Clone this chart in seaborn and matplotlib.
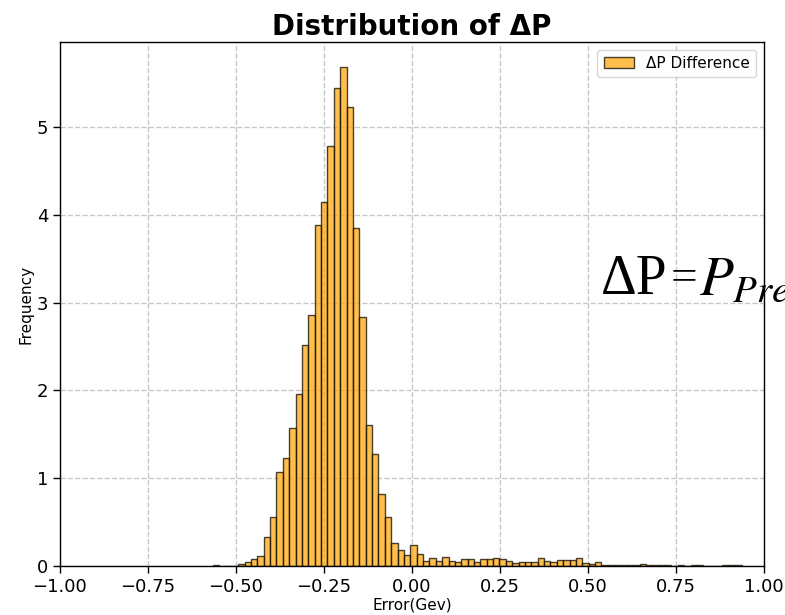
import numpy as np
import pandas as pd
import matplotlib
matplotlib.use("Agg")
import matplotlib.pyplot as plt
import seaborn as sns

# Histogram of ΔP (density per bin), bins start at -0.566 with width 0.0181
bin_start = -0.566
bin_width = 0.0181
density = [
    0.01, 0.00, 0.00, 0.00,
    0.02, 0.05, 0.08, 0.11, 0.33, 0.56, 1.07, 1.23, 1.57, 1.96,
    2.52, 2.86, 3.89, 4.15, 4.78, 5.45, 5.69, 5.23, 3.85, 2.84,
    1.61, 1.28, 0.82, 0.56, 0.26, 0.18, 0.13, 0.24, 0.14, 0.06,
    0.09, 0.06, 0.10, 0.06, 0.05, 0.08, 0.08, 0.05, 0.08, 0.08,
    0.09, 0.08, 0.06, 0.03, 0.05, 0.04, 0.04, 0.09, 0.06, 0.05,
    0.07, 0.07, 0.07, 0.09, 0.03, 0.02, 0.04,
    0.01, 0.01, 0.01, 0.01, 0.01, 0.01, 0.02, 0.01, 0.01, 0.01,
    0.01, 0.00, 0.01, 0.00, 0.01, 0.01, 0.00, 0.00, 0.00, 0.01,
    0.01, 0.01,
]
x_ticks = [-1.00, -0.75, -0.50, -0.25, 0.00, 0.25, 0.50, 0.75, 1.00]
y_ticks = [0, 1, 2, 3, 4, 5]

n_bins = len(density)
edges = bin_start + bin_width * np.arange(n_bins + 1)
centers = (edges[:-1] + edges[1:]) / 2
df = pd.DataFrame({"error": centers, "density": density})

plt.rcParams["mathtext.fontset"] = "stix"
fig = plt.figure(figsize=(7.85, 6.15), dpi=100)
ax = fig.add_axes([60 / 785, 1 - 566 / 615, 704 / 785, 524 / 615])

sns.histplot(data=df, x="error", weights="density",
             binwidth=bin_width, binrange=(float(edges[0]), float(edges[-1])),
             stat="count", color="orange", alpha=0.7,
             edgecolor=(0.05, 0.03, 0.0, 0.75),
             linewidth=1.0, label="ΔP Difference", ax=ax)

ax.set_xlim(-1.0, 1.0)
ax.set_ylim(0, 5.97)
ax.set_xticks(x_ticks)
ax.set_xticklabels([f"{t:.2f}".replace("-", "\u2212") for t in x_ticks])
ax.set_yticks(y_ticks)
ax.tick_params(axis="both", labelsize=13, length=5, width=1)
ax.grid(True, linestyle="--", color="#b0b0b0", alpha=0.7, linewidth=1)
ax.set_axisbelow(True)
for s in ax.spines.values():
    s.set_color("black")
    s.set_linewidth(1.0)

ax.set_xlabel("Error(Gev)", fontsize=11, labelpad=1)
ax.set_ylabel("Frequency", fontsize=11, labelpad=2)
ax.set_title("Distribution of ΔP", fontsize=20, fontweight="bold", pad=5)
ax.legend(loc="upper right", fontsize=11, framealpha=0.8)

# Formula annotation running off the right edge: ΔP = P_Predicted - P_True
base_y = 1 - 294 / 615
fig.text(601 / 785, base_y, "ΔP", fontsize=40, family="Liberation Serif",
         color="black", ha="left", va="baseline")
fig.text(671 / 785, 1 - 290 / 615, "=", fontsize=34, family="Liberation Serif",
         color="black", ha="left", va="baseline")
fig.text(699 / 785, base_y, r"$P_{Predicted} - P_{True}$", fontsize=40,
         color="black", ha="left", va="baseline")

fig.savefig("out.png", dpi=100)
